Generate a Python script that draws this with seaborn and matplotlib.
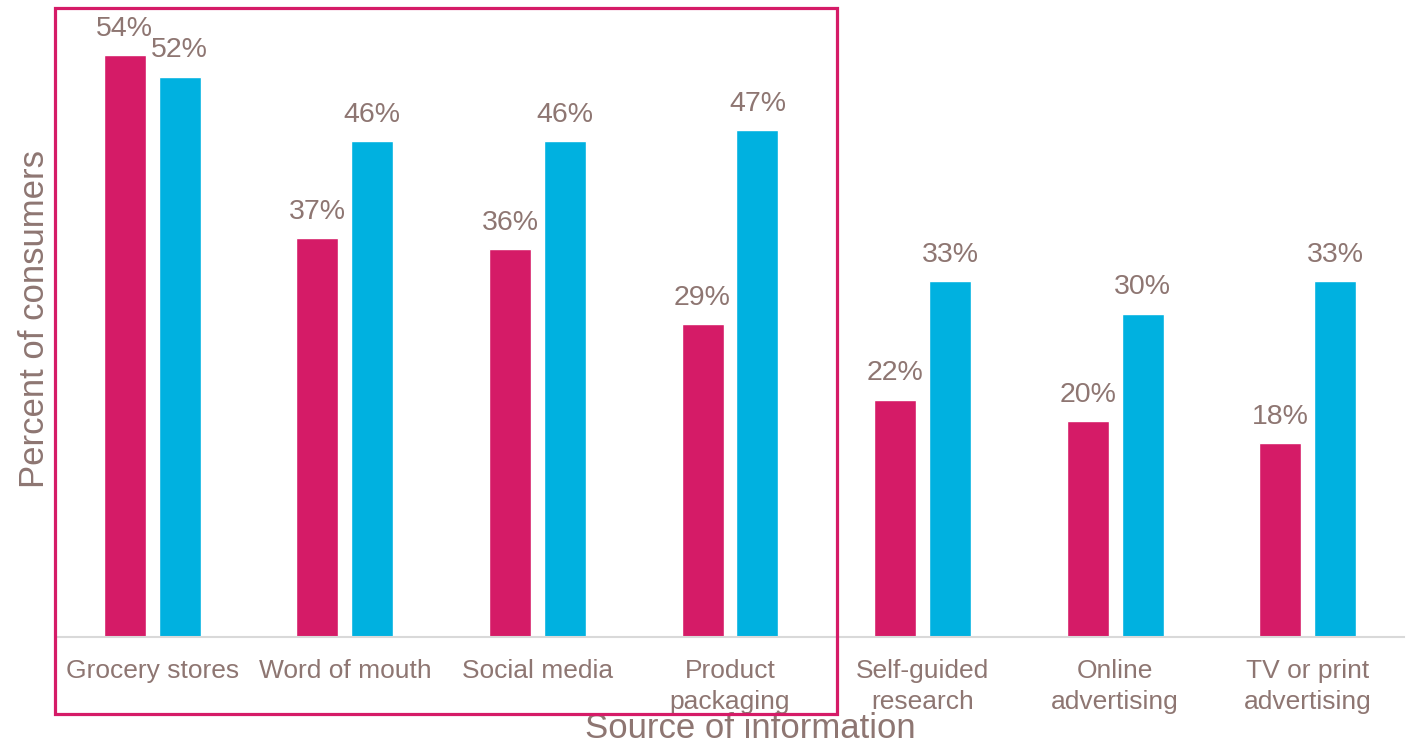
import matplotlib
matplotlib.use("Agg")
import matplotlib.pyplot as plt
from matplotlib.patches import Rectangle
import seaborn as sns
import pandas as pd

# Survey data: share of consumers using each information source
sources = ["Grocery stores", "Word of mouth", "Social media", "Product\npackaging",
           "Self-guided\nresearch", "Online\nadvertising", "TV or print\nadvertising"]
group_a = [54, 37, 36, 29, 22, 20, 18]
group_b = [52, 46, 46, 47, 33, 30, 33]
groups = ["Group A", "Group B"]

MAGENTA = "#D51B67"
CYAN = "#00B1E0"
TEXT = "#8E7672"

df = pd.DataFrame({
    "source": sources * 2,
    "value": group_a + group_b,
    "group": [groups[0]] * len(sources) + [groups[1]] * len(sources),
})

sns.set_theme(style="white")
plt.rcParams["font.family"] = ["Liberation Sans", "DejaVu Sans"]

fig = plt.figure(figsize=(14.1, 7.43), dpi=100)
ax = fig.add_axes([56 / 1410, 1 - 637 / 743, 1348 / 1410, 637 / 743])

sns.barplot(data=df, x="source", y="value", hue="group", order=sources,
            hue_order=groups, palette=[MAGENTA, CYAN], width=0.571, gap=0.236,
            saturation=1, legend=False, ax=ax)

ax.set_ylim(0, 59.1)
ax.set_xlim(-0.5, len(sources) - 0.5)
ax.set_yticks([])
ax.tick_params(axis="x", length=0, pad=16, labelsize=19, labelcolor=TEXT)
for lbl in ax.get_xticklabels():
    lbl.set_linespacing(1.36)

for side in ["top", "right", "left"]:
    ax.spines[side].set_visible(False)
ax.spines["bottom"].set_color("#D9D9D9")
ax.spines["bottom"].set_linewidth(1.5)

# Value labels above each bar
for container in ax.containers:
    for bar in container:
        h = bar.get_height()
        ax.annotate(f"{h:.0f}%", (bar.get_x() + bar.get_width() / 2, h),
                    xytext=(0, 14), textcoords="offset points",
                    ha="center", va="baseline", fontsize=20.5, color=TEXT)

ax.set_xlabel("Source of information", fontsize=25, color=TEXT)
ax.xaxis.set_label_coords((750 - 56) / 1348, -0.117)
ax.set_ylabel("Percent of consumers", fontsize=25, color=TEXT)
ax.yaxis.set_label_coords(-5 / 1348, 0.5)

# Highlight frame around the first four sources
fig.patches.append(Rectangle((55 / 1410, 1 - 714 / 743), (837 - 55) / 1410,
                             (714 - 8) / 743, transform=fig.transFigure,
                             fill=False, edgecolor=MAGENTA, linewidth=2.3,
                             zorder=5))

fig.savefig("out.png", dpi=100)
